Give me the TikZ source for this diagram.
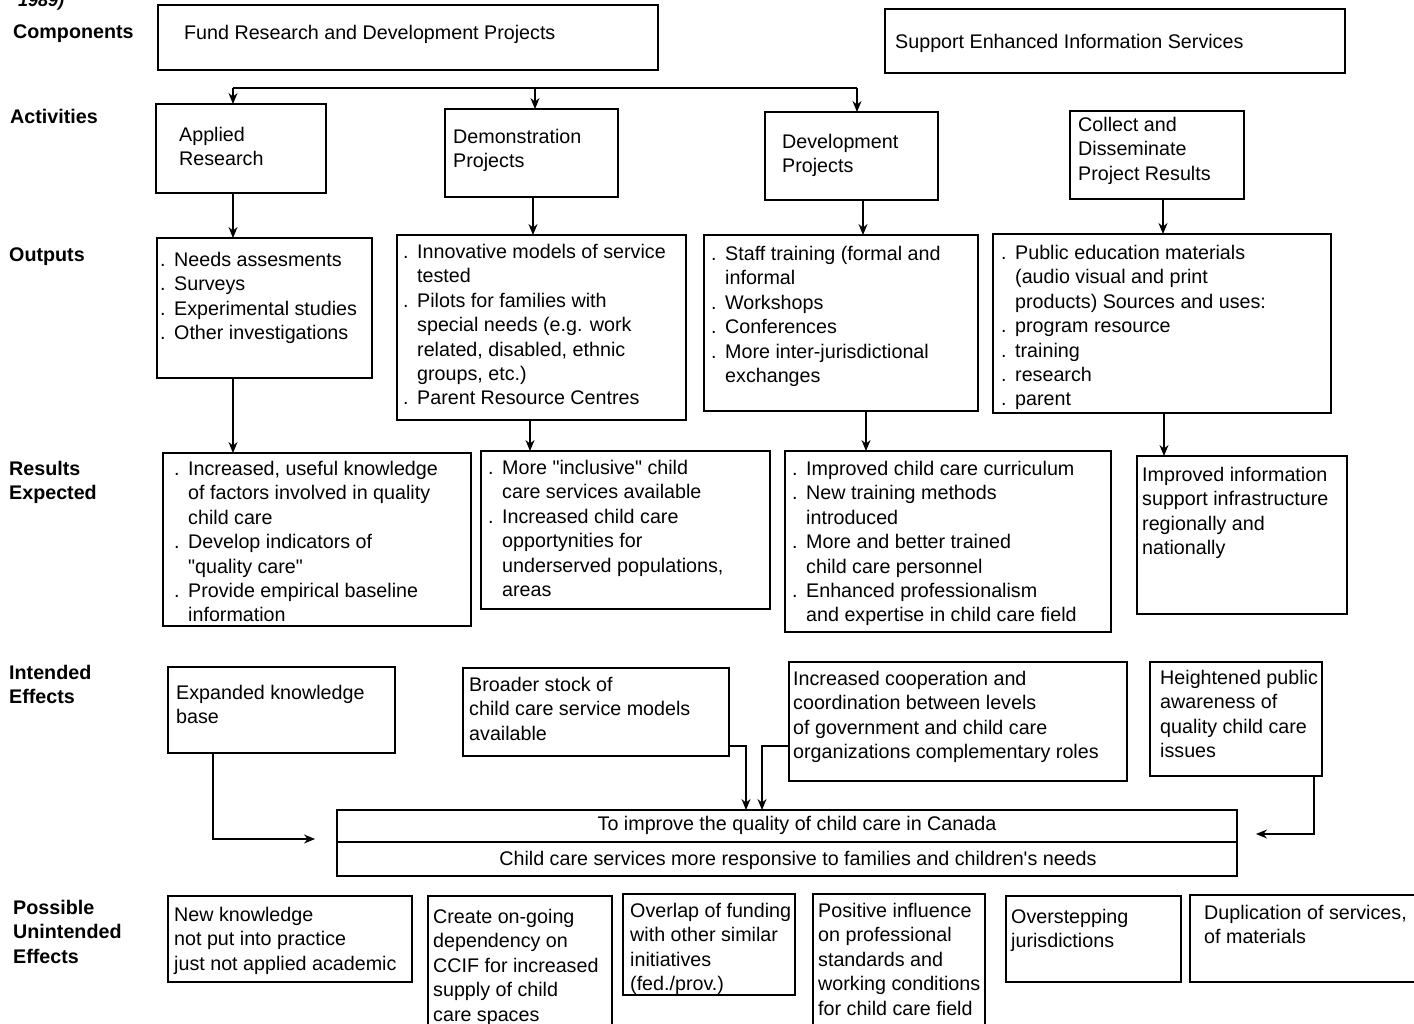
\documentclass[tikz,border=0pt]{standalone}
\usepackage{fontspec}
\setmainfont{Liberation Sans}
\newfontfamily\plainfont{Liberation Sans}
\usetikzlibrary{arrows.meta,calc}
\tikzset{
  bx/.style={draw, line width=1.1pt, inner sep=0pt, outer sep=0pt, anchor=north west},
  txt/.style={inner sep=0pt, anchor=north west, align=left, font=\plainfont\fontsize{19.7}{24.4}\selectfont},
  lbl/.style={txt, font=\plainfont\fontsize{19.7}{24.4}\selectfont\bfseries},
  conn/.style={line width=1.1pt},
  arr/.style={conn, -{Stealth[length=11pt,width=9pt]}},
}
\newcommand\mkbox[5]{\node[bx, minimum width={(#4-#2)*1pt}, minimum height={(#5-#3)*1pt}] (#1) at (#2,#3) {};}
\newcommand\mktxt[4]{\node[txt] (#1) at (#2,#3) {#4};}
\newcommand\di{\makebox[14pt][l]{.}}
\newcommand\ind{\makebox[14pt][l]{}}
\begin{document}
\begin{tikzpicture}[x=1pt,y=-1pt]
\useasboundingbox (0,0) rectangle (1414,1024);
\fill[white] (0,0) rectangle (1414,1024);
% year fragment
\node[txt, anchor=base west, font=\plainfont\fontsize{18}{22}\selectfont\bfseries\itshape] (yr) at (18,7) {1989)};
% row labels
\node[lbl] (lcomp) at (13,25) {Components};
\node[lbl] (lact) at (10,109) {Activities};
\node[lbl] (lout) at (9,248) {Outputs};
\node[lbl] (lres) at (9,461) {Results\\Expected};
\node[lbl] (lint) at (9,665) {Intended\\Effects};
\node[lbl] (lpos) at (13,900) {Possible\\Unintended\\Effects};
% components
\mkbox{fund}{158}{5}{658}{70}
\mktxt{tfund}{184}{25}{Fund Research and Development Projects}
\mkbox{support}{885}{9}{1345}{73}
\mktxt{tsupport}{895}{34}{Support Enhanced Information Services}
% activities
\mkbox{applied}{156}{104}{326}{193}
\mktxt{tapplied}{179}{127}{Applied\\Research}
\mkbox{demo}{445}{109}{618}{197}
\mktxt{tdemo}{453}{129}{Demonstration\\Projects}
\mkbox{dev}{765}{112}{938}{200}
\mktxt{tdev}{782}{134}{Development\\Projects}
\mkbox{collect}{1070}{111}{1244}{199}
\mktxt{tcollect}{1078}{117}{Collect and\\Disseminate\\Project Results}
% outputs
\mkbox{needs}{157}{238}{372}{378}
\mktxt{tneeds}{160}{252}{\di Needs assesments\\\di Surveys\\\di Experimental studies\\\di Other investigations}
\mkbox{innov}{397}{235}{686}{420}
\mktxt{tinnov}{403}{244}{\di Innovative models of service\\\ind tested\\\di Pilots for families with\\\ind special needs (e.g. work\\\ind related, disabled, ethnic\\\ind groups, etc.)\\\di Parent Resource Centres}
\mkbox{staff}{704}{235}{978}{411}
\mktxt{tstaff}{711}{246}{\di Staff training (formal and\\\ind informal\\\di Workshops\\\di Conferences\\\di More inter-jurisdictional\\\ind exchanges}
\mkbox{public}{993}{234}{1331}{413}
\mktxt{tpublic}{1001}{245}{\di Public education materials\\\ind (audio visual and print\\\ind products) Sources and uses:\\\di program resource\\\di training\\\di research\\\di parent}
% results expected
\mkbox{incr}{163}{453}{471}{626}
\mktxt{tincr}{174}{461}{\di Increased, useful knowledge\\\ind of factors involved in quality\\\ind child care\\\di Develop indicators of\\\ind "quality care"\\\di Provide empirical baseline\\\ind information}
\mkbox{incl}{481}{451}{770}{609}
\mktxt{tincl}{488}{460}{\di More "inclusive" child\\\ind care services available\\\di Increased child care\\\ind opportynities for\\\ind underserved populations,\\\ind areas}
\mkbox{curr}{785}{451}{1111}{632}
\mktxt{tcurr}{792}{461}{\di Improved child care curriculum\\\di New training methods\\\ind introduced\\\di More and better trained\\\ind child care personnel\\\di Enhanced professionalism\\\ind and expertise in child care field}
\mkbox{info}{1137}{456}{1347}{614}
\mktxt{tinfo}{1142}{467}{Improved information\\support infrastructure\\regionally and\\nationally}
% intended effects
\mkbox{expanded}{168}{667}{395}{753}
\mktxt{texpanded}{176}{685}{Expanded knowledge\\base}
\mkbox{broader}{463}{668}{729}{756}
\mktxt{tbroader}{469}{677}{Broader stock of\\child care service models\\available}
\mkbox{coop}{789}{662}{1127}{781}
\mktxt{tcoop}{793}{671}{Increased cooperation and\\coordination between levels\\of government and child care\\organizations complementary roles}
\mkbox{height}{1150}{662}{1322}{776}
\mktxt{theight}{1160}{670}{Heightened public\\awareness of\\quality child care\\issues}
% goal
\mkbox{goalA}{337}{810}{1237}{842}
\mkbox{goalB}{337}{842}{1237}{876}
\node[txt, anchor=center] (tgoalA) at (797,825) {To improve the quality of child care in Canada};
\node[txt, anchor=center] (tgoalB) at (798,860) {Child care services more responsive to families and children's needs};
% possible unintended effects
\mkbox{uk}{168}{896}{412}{982}
\mktxt{tuk}{174}{907}{New knowledge\\not put into practice\\just not applied academic}
\mkbox{create}{428}{896}{612}{1030}
\mktxt{tcreate}{433}{909}{Create on-going\\dependency on\\CCIF for increased\\supply of child\\care spaces}
\mkbox{overlap}{623}{894}{795}{995}
\mktxt{toverlap}{630}{903}{Overlap of funding\\with other similar\\initiatives\\(fed./prov.)}
\mkbox{positive}{813}{894}{985}{1030}
\mktxt{tpositive}{818}{903}{Positive influence\\on professional\\standards and\\working conditions\\for child care field}
\mkbox{overstep}{1006}{896}{1181}{982}
\mktxt{toverstep}{1011}{909}{Overstepping\\jurisdictions}
\mkbox{dup}{1190}{895}{1420}{982}
\mktxt{tdup}{1204}{905}{Duplication of services,\\of materials}
% connectors
\coordinate (busL) at (233,88);
\coordinate (busM) at (535,88);
\coordinate (busR) at (857,88);
\draw[conn] (busL) -- (busR);
\draw[arr] (busL) -- (busL |- applied.north);
\draw[arr] (busM) -- (busM |- demo.north);
\draw[arr] (busR) -- (busR |- dev.north);
\coordinate (x1) at (233,0);
\coordinate (x2) at (533,0);
\coordinate (x3) at (863,0);
\coordinate (x4) at (1163,0);
\draw[arr] (x1 |- applied.south) -- (x1 |- needs.north);
\draw[arr] (x2 |- demo.south) -- (x2 |- innov.north);
\draw[arr] (x3 |- dev.south) -- (x3 |- staff.north);
\draw[arr] (x4 |- collect.south) -- (x4 |- public.north);
\coordinate (x5) at (233,0);
\coordinate (x6) at (530,0);
\coordinate (x7) at (866,0);
\coordinate (x8) at (1164,0);
\draw[arr] (x5 |- needs.south) -- (x5 |- incr.north);
\draw[arr] (x6 |- innov.south) -- (x6 |- incl.north);
\draw[arr] (x7 |- staff.south) -- (x7 |- curr.north);
\draw[arr] (x8 |- public.south) -- (x8 |- info.north);
% to goal
\coordinate (xe) at (213,0);
\coordinate (ge) at (315,839);
\draw[arr] (xe |- expanded.south) -- (xe |- ge) -- (ge);
\coordinate (yb) at (0,746);
\coordinate (xb) at (746,0);
\coordinate (xc) at (762,0);
\draw[arr] (broader.east |- yb) -- (xb |- yb) -- (xb |- goalA.north);
\draw[arr] (coop.west |- yb) -- (xc |- yb) -- (xc |- goalA.north);
\coordinate (xh) at (1314,0);
\coordinate (gh) at (1256,834);
\draw[arr] (xh |- height.south) -- (xh |- gh) -- (gh);
\end{tikzpicture}
\end{document}
